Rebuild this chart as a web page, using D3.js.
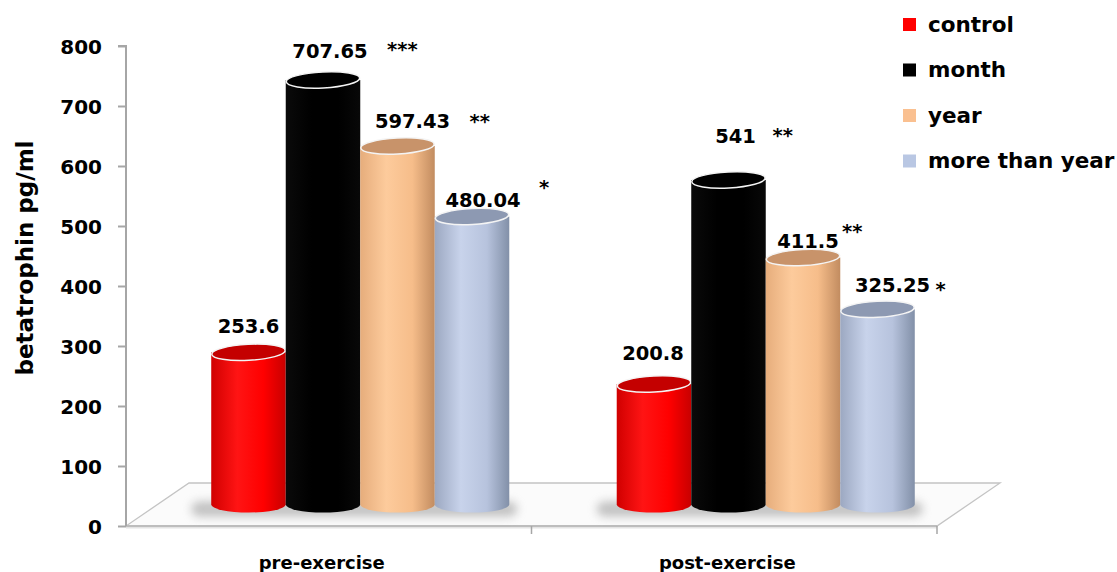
<!DOCTYPE html>
<html><head><meta charset="utf-8">
<script src="https://cdn.jsdelivr.net/npm/d3@7/dist/d3.min.js"></script>
<style>body{margin:0;background:#fff}svg{display:block}text{font-family:"DejaVu Sans",sans-serif;font-weight:bold;fill:#000}</style>
</head><body>
<script>
const categories = ["pre-exercise", "post-exercise"];
const series = ["control", "month", "year", "more than year"];
const preValues = [253.6, 707.65, 597.43, 480.04];
const postValues = [200.8, 541, 411.5, 325.25];
const preLabels = ["253.6", "707.65", "597.43", "480.04"];
const postLabels = ["200.8", "541", "411.5", "325.25"];
const preStars = ["", "***", "**", "*"];
const postStars = ["", "**", "**", "*"];
const yTicks = [0, 100, 200, 300, 400, 500, 600, 700, 800];
const yTitle = "betatrophin pg/ml";

const W = 1117, H = 572;
const svg = d3.select("body").append("svg").attr("width", W).attr("height", H);
const defs = svg.append("defs");

// styling
const palette = {
  "control": {body: ["#d00000", "#ff1414", "#ff0000", "#c80000"], top: "#c40000", key: "#ff0000"},
  "month": {body: ["#0a0a0a", "#000000", "#000000", "#080808"], top: "#000000", key: "#000000"},
  "year": {body: ["#e6ad7c", "#fdcb9c", "#f6bd8a", "#c28c60"], top: "#c8936a", key: "#fac090"},
  "more than year": {body: ["#9ca8c1", "#c8d3eb", "#b7c3dd", "#8290a8"], top: "#8d99b2", key: "#b9c7e3"}
};
series.forEach((s, i) => {
  const g = defs.append("linearGradient").attr("id", "grad" + i).attr("x1", 0).attr("x2", 1).attr("y1", 0).attr("y2", 0);
  const c = palette[s].body;
  [[0, c[0]], [0.35, c[1]], [0.7, c[2]], [1, c[3]]].forEach(([o, col]) => g.append("stop").attr("offset", o).attr("stop-color", col));
});
const blur = defs.append("filter").attr("id", "blur").attr("x", "-20%").attr("y", "-100%").attr("width", "140%").attr("height", "300%");
blur.append("feGaussianBlur").attr("stdDeviation", 5);

const x0 = 126, x1 = 937, depthX = 63, depthY = 43;
const y = d3.scaleLinear().domain([0, 800]).range([526, 46]);
const xCat = d3.scaleBand().domain(categories).range([x0, x1]);
const groupW = xCat.bandwidth() * 0.735;
const xSer = d3.scaleBand().domain(series).range([(xCat.bandwidth() - groupW) / 2, (xCat.bandwidth() + groupW) / 2]);
const dx = depthX / 2, dy = depthY / 2;

// floor
const y0 = y(0);
svg.append("path")
  .attr("d", `M${x0},${y0} L${x1},${y0} L${x1 + depthX},${y0 - depthY} L${x0 + depthX},${y0 - depthY} Z`)
  .attr("fill", "#fbfbfb").attr("stroke", "#c4c4c4").attr("stroke-width", 1.3);
svg.append("line").attr("x1", x0).attr("x2", x1).attr("y1", y0 + 1.5).attr("y2", y0 + 1.5).attr("stroke", "#e4e4e4").attr("stroke-width", 2);
svg.append("line").attr("x1", x0).attr("x2", x1).attr("y1", y0).attr("y2", y0).attr("stroke", "#bdbdbd").attr("stroke-width", 2);

// y axis
const yAxis = d3.axisLeft(y).tickValues(yTicks).tickSize(8).tickPadding(16);
const ga = svg.append("g").attr("transform", `translate(${x0},0)`).call(yAxis);
ga.select(".domain").attr("stroke", "#a6a6a6").attr("stroke-width", 2).attr("d", `M-8,${y(800)}H0V${y0}`);
ga.selectAll(".tick line").attr("stroke", "#a6a6a6").attr("stroke-width", 2);
ga.selectAll(".tick text").attr("font-size", 20).attr("font-family", "DejaVu Sans").attr("font-weight", "bold").attr("fill", "#000").attr("dy", "0.36em");

// x axis ticks + labels
const catTicks = [x0 + xCat.bandwidth(), x1];
catTicks.forEach(t => svg.append("line").attr("x1", t).attr("x2", t).attr("y1", y0).attr("y2", y0 + 8).attr("stroke", "#a6a6a6").attr("stroke-width", 1.5));
svg.selectAll(".cat").data(categories).join("text")
  .attr("x", d => xCat(d) + xCat.bandwidth() / 2 - 7).attr("y", 569)
  .attr("text-anchor", "middle").attr("font-size", 18).text(d => d);

// y title
svg.append("text").attr("transform", "translate(33,258) rotate(-90)")
  .attr("text-anchor", "middle").attr("font-size", 23).text(yTitle);

// label layout (offsets from cylinder center / top)
const labelOffsets = [
  [{dx: 0, dy: -11}, {dx: 7, dy: -14}, {dx: 15, dy: -10}, {dx: 11, dy: -1}],
  [{dx: -1, dy: -16}, {dx: 7, dy: -29}, {dx: 5, dy: -2}, {dx: 15, dy: -9}]
];
const starOffsets = [
  [{dx: 0, dy: 0}, {dx: 64, dy: -2}, {dx: 72, dy: 0}, {dx: 67, dy: -13}],
  [{dx: 0, dy: 0}, {dx: 44, dy: -1}, {dx: 39, dy: -10}, {dx: 58, dy: 4}]
];

const rx = xSer.bandwidth() / 2, ry = 8, tilt = -3;
const groups = [
  {cat: categories[0], values: preValues, labels: preLabels, stars: preStars},
  {cat: categories[1], values: postValues, labels: postLabels, stars: postStars}
];
groups.forEach((grp, gi) => {
  const gx = xCat(grp.cat) + dx;
  const base = y0 - dy;
  // shadow
  svg.append("rect").attr("x", gx + xSer(series[0]) - 20).attr("y", base - 3)
    .attr("width", xSer.bandwidth() * 4 + 28).attr("height", 15).attr("rx", 8)
    .attr("fill", "#888").attr("opacity", 0.5).attr("filter", "url(#blur)");
  series.forEach((s, i) => {
    const cx = gx + xSer(s) + rx;
    const top = y(grp.values[i]) - dy;
    const g = svg.append("g");
    g.append("path")
      .attr("d", `M${cx - rx},${top} L${cx - rx},${base} A${rx},${ry} 0 0 0 ${cx + rx},${base} L${cx + rx},${top} Z`)
      .attr("fill", `url(#grad${i})`);
    g.append("ellipse").attr("cx", cx).attr("cy", top).attr("rx", rx - 0.5).attr("ry", ry)
      .attr("transform", `rotate(${tilt},${cx},${top})`)
      .attr("fill", palette[s].top).attr("stroke", "#f4f4f4").attr("stroke-width", 1.5);
    const lo = labelOffsets[gi][i];
    const lx = cx + lo.dx, ly = top - ry + lo.dy;
    svg.append("text").attr("x", lx).attr("y", ly).attr("text-anchor", "middle").attr("font-size", 19.5).text(grp.labels[i]);
    if (grp.stars[i]) {
      const so = starOffsets[gi][i];
      svg.append("text").attr("x", cx + so.dx).attr("y", ly + so.dy).attr("font-size", 19.5).text(grp.stars[i]);
    }
  });
});

// legend
const leg = svg.append("g").selectAll("g").data(series).join("g")
  .attr("transform", (d, i) => `translate(903,${24 + i * 45.5})`);
leg.append("rect").attr("x", 0).attr("y", -6).attr("width", 13).attr("height", 13).attr("fill", d => palette[d].key);
leg.append("text").attr("x", 25).attr("y", 7.5).attr("font-size", 21.5).text(d => d);
</script>
</body></html>
